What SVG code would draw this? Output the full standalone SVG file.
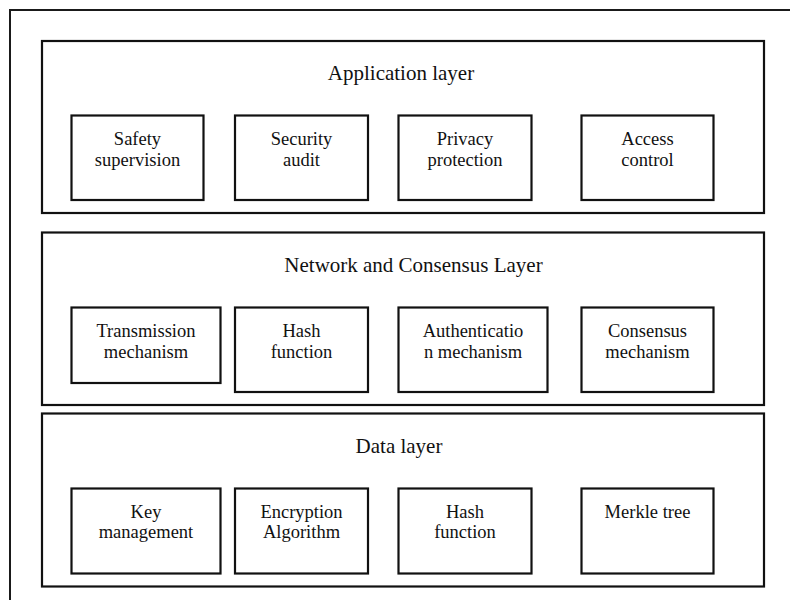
<svg xmlns="http://www.w3.org/2000/svg" width="790" height="600" viewBox="0 0 790 600">
<style>
.frame{fill:none;stroke:#1a1a1a;stroke-width:2}
.layer{fill:#fff;stroke:#111;stroke-width:2.2}
.box{fill:#fff;stroke:#111;stroke-width:2.2}
.title{font-family:"Liberation Serif","Times New Roman",serif;font-size:21px;fill:#111;text-anchor:middle}
.lbl{font-family:"Liberation Serif","Times New Roman",serif;font-size:18.5px;fill:#111;text-anchor:middle}
</style>
<rect width="790" height="600" fill="#fff"/>
<rect class="frame" x="10" y="10" width="800" height="620"/>

<g id="application-layer">
<rect class="layer" x="42" y="41" width="722" height="172"/>
<text class="title" x="401" y="80">Application layer</text>
</g>
<g id="safety-supervision">
<rect class="box" x="71.5" y="115.5" width="132" height="84.5"/>
<text class="lbl" x="137.5" y="145">Safety</text>
<text class="lbl" x="137.5" y="165.5">supervision</text>
</g>
<g id="security-audit">
<rect class="box" x="235" y="115.5" width="133" height="84.5"/>
<text class="lbl" x="301.5" y="145">Security</text>
<text class="lbl" x="301.5" y="165.5">audit</text>
</g>
<g id="privacy-protection">
<rect class="box" x="398.5" y="115.5" width="133" height="84.5"/>
<text class="lbl" x="465" y="145">Privacy</text>
<text class="lbl" x="465" y="165.5">protection</text>
</g>
<g id="access-control">
<rect class="box" x="581.5" y="115.5" width="132" height="84.5"/>
<text class="lbl" x="647.5" y="145">Access</text>
<text class="lbl" x="647.5" y="165.5">control</text>
</g>

<g id="network-consensus-layer">
<rect class="layer" x="42" y="232.5" width="722" height="172.5"/>
<text class="title" x="413.5" y="272">Network and Consensus Layer</text>
</g>
<g id="transmission-mechanism">
<rect class="box" x="71.5" y="307.5" width="149" height="75.5"/>
<text class="lbl" x="146" y="337">Transmission</text>
<text class="lbl" x="146" y="357.5">mechanism</text>
</g>
<g id="hash-function-net">
<rect class="box" x="235" y="307.5" width="133" height="84.5"/>
<text class="lbl" x="301.5" y="337">Hash</text>
<text class="lbl" x="301.5" y="357.5">function</text>
</g>
<g id="authentication-mechanism">
<rect class="box" x="398.5" y="307.5" width="149" height="84.5"/>
<text class="lbl" x="473" y="337">Authenticatio</text>
<text class="lbl" x="473" y="357.5">n mechanism</text>
</g>
<g id="consensus-mechanism">
<rect class="box" x="581.5" y="307.5" width="132" height="84.5"/>
<text class="lbl" x="647.5" y="337">Consensus</text>
<text class="lbl" x="647.5" y="357.5">mechanism</text>
</g>

<g id="data-layer">
<rect class="layer" x="42" y="413.5" width="722" height="173"/>
<text class="title" x="399" y="453">Data layer</text>
</g>
<g id="key-management">
<rect class="box" x="71.5" y="488.5" width="149" height="85"/>
<text class="lbl" x="146" y="517.5">Key</text>
<text class="lbl" x="146" y="537.5">management</text>
</g>
<g id="encryption-algorithm">
<rect class="box" x="235" y="488.5" width="133" height="85"/>
<text class="lbl" x="301.5" y="517.5">Encryption</text>
<text class="lbl" x="301.5" y="537.5">Algorithm</text>
</g>
<g id="hash-function-data">
<rect class="box" x="398.5" y="488.5" width="133" height="85"/>
<text class="lbl" x="465" y="517.5">Hash</text>
<text class="lbl" x="465" y="537.5">function</text>
</g>
<g id="merkle-tree">
<rect class="box" x="581.5" y="488.5" width="132" height="85"/>
<text class="lbl" x="647.5" y="517.5">Merkle tree</text>
</g>
<g id="connectors"></g>
</svg>
